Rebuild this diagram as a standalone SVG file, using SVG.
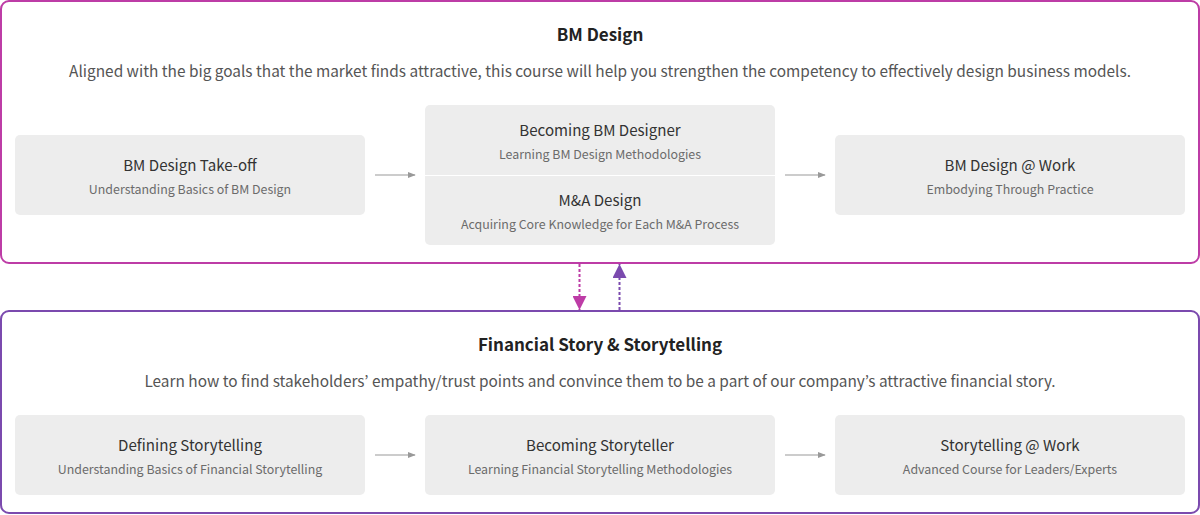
<svg xmlns="http://www.w3.org/2000/svg" width="1200" height="515" viewBox="0 0 1200 515">
  <style>
    text { font-family: "Noto Sans CJK KR", "Noto Sans", "Liberation Sans", sans-serif; text-anchor: middle; }
    .h { font-size: 17px; font-weight: 700; fill: #222; }
    .lead { font-size: 15.4px; fill: #555; }
    .t { font-size: 15.1px; fill: #333; }
    .s { font-size: 12.4px; fill: #6b6b6b; }
    .card { fill: #ededed; }
    .flow { stroke: #999; stroke-width: 1.2; fill: none; }
  </style>
  <defs>
    <marker id="gray" viewBox="0 0 10 10" refX="9" refY="5" markerWidth="8" markerHeight="8" markerUnits="userSpaceOnUse" orient="auto">
      <path d="M0,1 L10,5 L0,9 Z" fill="#999"/>
    </marker>
    <marker id="mag" viewBox="0 0 10 10" refX="10" refY="5" markerWidth="14" markerHeight="14" markerUnits="userSpaceOnUse" orient="auto">
      <path d="M0,0 L10,5 L0,10 Z" fill="#bd3ca6"/>
    </marker>
    <marker id="pur" viewBox="0 0 10 10" refX="10" refY="5" markerWidth="14" markerHeight="14" markerUnits="userSpaceOnUse" orient="auto">
      <path d="M0,0 L10,5 L0,10 Z" fill="#7b4aae"/>
    </marker>
  </defs>

  <!-- upper section -->
  <g id="bm-design">
    <rect x="1" y="1" width="1198" height="262" rx="8" fill="#fff" stroke="#bd3ca6" stroke-width="2"/>
    <text class="h" x="600" y="41">BM Design</text>
    <text class="lead" x="600" y="77">Aligned with the big goals that the market finds attractive, this course will help you strengthen the competency to effectively design business models.</text>
  </g>
  <g id="bm-takeoff">
    <rect class="card" x="15" y="135" width="350" height="80" rx="5"/>
    <text class="t" x="190" y="171">BM Design Take-off</text>
    <text class="s" x="190" y="194">Understanding Basics of BM Design</text>
  </g>
  <g id="bm-designer">
    <rect class="card" x="425" y="105" width="350" height="140" rx="5"/>
    <line x1="425" y1="175.5" x2="775" y2="175.5" stroke="#fff" stroke-width="1.2"/>
    <text class="t" x="600" y="136">Becoming BM Designer</text>
    <text class="s" x="600" y="159">Learning BM Design Methodologies</text>
    <text class="t" x="600" y="206">M&amp;A Design</text>
    <text class="s" x="600" y="229">Acquiring Core Knowledge for Each M&amp;A Process</text>
  </g>
  <g id="bm-work">
    <rect class="card" x="835" y="135" width="350" height="80" rx="5"/>
    <text class="t" x="1010" y="171">BM Design @ Work</text>
    <text class="s" x="1010" y="194">Embodying Through Practice</text>
  </g>

  <!-- lower section -->
  <g id="financial-story">
    <rect x="1" y="311" width="1198" height="202" rx="8" fill="#fff" stroke="#7b4aae" stroke-width="2"/>
    <text class="h" x="600" y="351">Financial Story &amp; Storytelling</text>
    <text class="lead" x="600" y="387">Learn how to find stakeholders’ empathy/trust points and convince them to be a part of our company’s attractive financial story.</text>
  </g>
  <g id="defining-storytelling">
    <rect class="card" x="15" y="415" width="350" height="80" rx="5"/>
    <text class="t" x="190" y="451">Defining Storytelling</text>
    <text class="s" x="190" y="474">Understanding Basics of Financial Storytelling</text>
  </g>
  <g id="becoming-storyteller">
    <rect class="card" x="425" y="415" width="350" height="80" rx="5"/>
    <text class="t" x="600" y="451">Becoming Storyteller</text>
    <text class="s" x="600" y="474">Learning Financial Storytelling Methodologies</text>
  </g>
  <g id="storytelling-work">
    <rect class="card" x="835" y="415" width="350" height="80" rx="5"/>
    <text class="t" x="1010" y="451">Storytelling @ Work</text>
    <text class="s" x="1010" y="474">Advanced Course for Leaders/Experts</text>
  </g>

  <!-- connectors -->
  <g id="connectors">
    <line class="flow" x1="375" y1="175" x2="415" y2="175" marker-end="url(#gray)"/>
    <line class="flow" x1="785" y1="175" x2="825" y2="175" marker-end="url(#gray)"/>
    <line class="flow" x1="375" y1="455" x2="415" y2="455" marker-end="url(#gray)"/>
    <line class="flow" x1="785" y1="455" x2="825" y2="455" marker-end="url(#gray)"/>
    <line x1="579.5" y1="264" x2="579.5" y2="310" stroke="#bd3ca6" stroke-width="2" stroke-dasharray="3 2" marker-end="url(#mag)"/>
    <line x1="619.5" y1="310" x2="619.5" y2="264" stroke="#7b4aae" stroke-width="2" stroke-dasharray="3 2" marker-end="url(#pur)"/>
  </g>
</svg>
